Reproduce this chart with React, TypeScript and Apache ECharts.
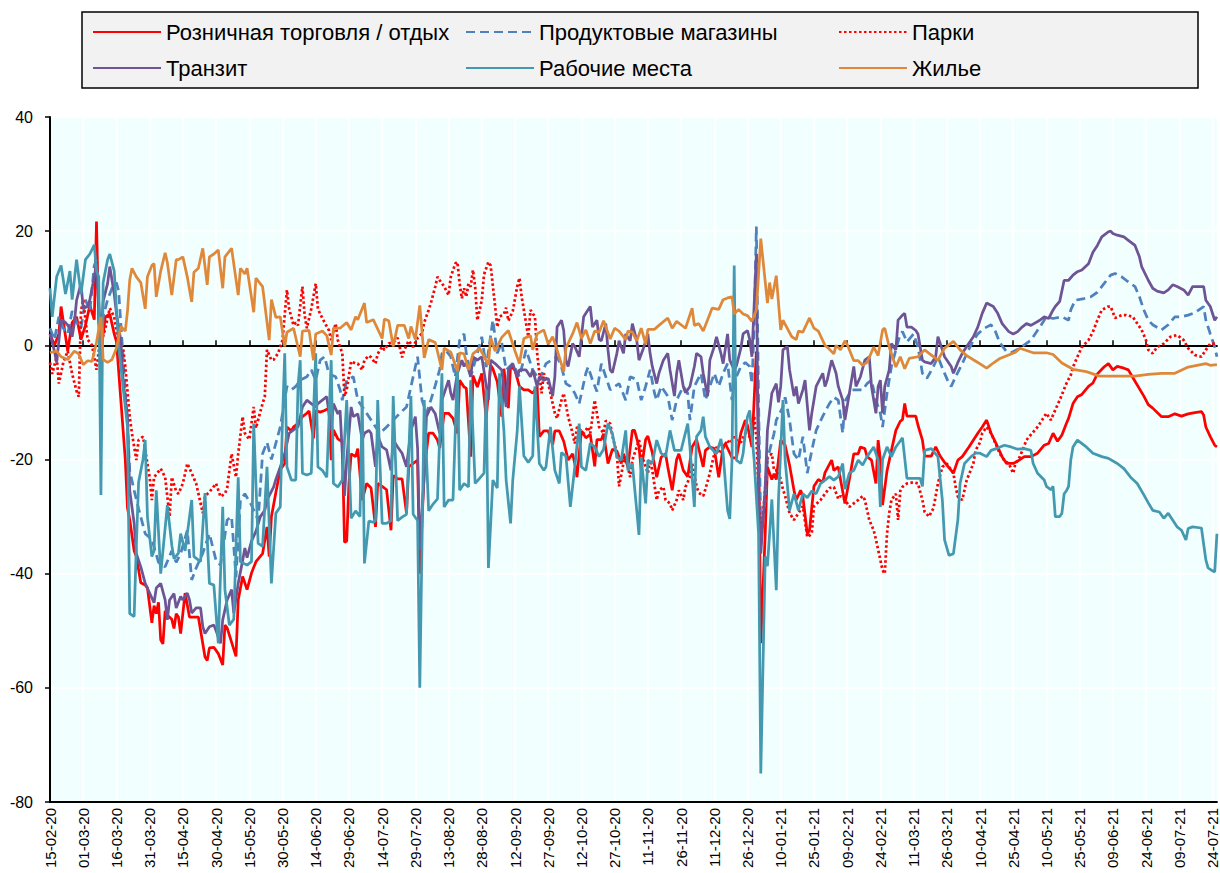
import React, { useEffect, useRef } from "react";
import * as echarts from "echarts";

// Category axis: daily dates from 15-02-2020 to 26-07-2021
const START = Date.UTC(2020, 1, 15);
const DAY_COUNT = 528;
const pad = (n: number) => (n < 10 ? "0" + n : "" + n);
const dates: string[] = [];
for (let i = 0; i < DAY_COUNT; i++) {
  const t = new Date(START + i * 86400000);
  dates.push(pad(t.getUTCDate()) + "-" + pad(t.getUTCMonth() + 1) + "-" + pad(t.getUTCFullYear() % 100));
}

const yTicks = { min: -80, max: 40, step: 20 };

const seriesNames = [
  "Розничная торговля / отдых",
  "Продуктовые магазины",
  "Парки",
  "Транзит",
  "Рабочие места",
  "Жилье",
];

// [day index, value]
const retail: number[][] = [[0,2],[2,0],[4,2],[5,6.8],[8,-1],[10,4],[12,5],[14,1],[16,3.5],[18,7],[20,4.5],[21,21.7],[22,4],[23,-1],[25,5],[27,5.5],[29,2],[30,0.7],[32,-9.6],[34,-20],[35,-28.5],[36,-30.5],[38,-36],[39,-37],[41,-41.6],[43,-42],[44,-42.5],[46,-48.6],[47,-45.6],[48,-47],[49,-45],[50,-51.6],[51,-52.3],[52,-46.5],[53,-47.3],[55,-48],[56,-49.6],[57,-47],[58,-47.6],[59,-50.5],[61,-43.4],[63,-47.6],[65,-47.6],[67,-47.6],[70,-54.6],[71,-55.2],[72,-53],[74,-52.9],[76,-54],[78,-56],[79,-49],[80,-49.5],[82,-52],[84,-54.5],[85,-44.6],[87,-40.5],[89,-42.8],[91,-39.9],[93,-37.9],[96,-36.5],[98,-31.8],[99,-37],[100,-30],[102,-25.8],[104,-21.8],[106,-20.7],[107,-14.3],[109,-15],[110,-14.3],[112,-13.7],[114,-12.5],[116,-11.9],[117,-11.5],[119,-16.3],[120,-11.4],[122,-11.7],[124,-11.4],[126,-11],[127,-20.1],[128,-14.8],[130,-16.4],[132,-16.9],[133,-34.5],[134,-34.3],[135,-24.2],[136,-19],[138,-19.5],[139,-18.1],[141,-27.1],[143,-24.2],[145,-25],[147,-31.8],[148,-24.2],[150,-24.7],[152,-25.3],[154,-32.4],[155,-22.8],[157,-23.4],[159,-23.4],[161,-29.4],[162,-21.3],[164,-20.7],[166,-20.1],[167,-40],[169,-21.9],[171,-15.4],[173,-15.4],[175,-16.6],[176,-18],[178,-11.9],[180,-11.9],[182,-12.8],[184,-15.4],[185,-6.1],[187,-7.3],[188,-7.5],[190,-19.5],[191,-5.3],[193,-7.3],[195,-4.9],[197,-12.8],[199,-3.5],[200,-4.1],[202,-6.4],[204,-12.5],[205,-4.1],[207,-11],[208,-3.5],[210,-4.4],[212,-7.2],[214,-7.8],[216,-7.8],[218,-8.4],[220,-7.2],[221,-16],[223,-15],[225,-15],[227,-17.4],[228,-15],[230,-15],[232,-16.8],[234,-20.1],[236,-19],[237,-20.7],[238,-23.1],[240,-15],[242,-16.2],[244,-15.6],[246,-21.2],[247,-16.5],[249,-16.5],[250,-15.5],[252,-20.7],[254,-18.2],[256,-18.5],[258,-20.7],[259,-19],[261,-21.3],[263,-14.9],[264,-14.9],[266,-17.8],[267,-21.8],[269,-16.5],[270,-15.9],[272,-18.8],[274,-23.1],[276,-19.6],[278,-19],[279,-21.3],[281,-25.4],[283,-20],[284,-19],[286,-21.9],[288,-23],[290,-17.8],[292,-16.5],[295,-21.3],[296,-18.4],[298,-17.8],[300,-18.1],[302,-23.1],[304,-17.8],[305,-17.2],[308,-19.7],[310,-19.7],[312,-15.4],[314,-13.1],[315,-14],[316,-16],[317,-17.8],[318,-9.6],[319,-1.1],[320,-15],[321,-52.2],[323,-33],[324,-21.3],[326,-23.5],[327,-22.5],[328,-23.5],[330,-16.6],[332,-17.5],[334,-21],[336,-25.4],[337,-27.1],[339,-25.4],[340,-26.5],[342,-33],[343,-32.4],[345,-24.7],[347,-23.5],[349,-24],[350,-22.3],[353,-20.1],[354,-21.9],[356,-21.3],[357,-23.5],[359,-27.7],[361,-23.5],[363,-19],[365,-19],[366,-17.8],[368,-18.1],[369,-19.5],[371,-20.1],[373,-24.2],[374,-16.6],[375,-20],[376,-28],[378,-22],[380,-18.4],[382,-14.9],[384,-13.3],[385,-13],[386,-10.2],[387,-12.4],[389,-12.4],[391,-12.4],[392,-14],[394,-16.6],[395,-19.4],[398,-19.4],[400,-17.8],[402,-19.4],[404,-20.5],[408,-22.4],[410,-20.1],[412,-19.5],[415,-17.8],[419,-15.4],[421,-14.3],[423,-13.1],[425,-15.4],[427,-17],[430,-19.5],[432,-20.7],[435,-20.7],[437,-20.3],[440,-19.5],[443,-19.5],[446,-18.9],[449,-17.5],[451,-17.2],[453,-15.4],[455,-16.8],[457,-15.7],[459,-13.7],[460,-12.8],[462,-10.2],[464,-9],[466,-8.6],[469,-7.2],[471,-6.6],[473,-5],[476,-3.8],[478,-3.2],[480,-4.3],[482,-3.7],[485,-4],[487,-4.3],[490,-6.3],[494,-8.9],[496,-10.4],[498,-11],[502,-12.5],[505,-12.5],[508,-12],[511,-12.4],[514,-12],[517,-11.8],[520,-11.6],[521,-12.2],[522,-14.3],[524,-16],[526,-17.5],[527,-17.8]];

const grocery: number[][] = [[0,3],[2,1],[4,5],[6,3],[8,2],[10,6],[12,4],[14,3],[16,8],[18,6],[20,14],[21,15],[23,-2],[24,5],[26,8],[28,10],[30,11],[31,9.5],[33,-2],[35,-14],[36,-22],[38,-25.4],[40,-28.6],[43,-33],[46,-34],[49,-38],[52,-38.8],[55,-36],[57,-38],[59,-36.5],[62,-32.4],[64,-41.1],[66,-39],[69,-36.4],[72,-33],[75,-37.7],[77,-38.5],[80,-30.6],[82,-30],[84,-40.6],[86,-27.1],[88,-26],[91,-28],[94,-30.6],[96,-19],[98,-17],[100,-20],[104,-14.3],[107,-7.2],[109,-7.8],[111,-7.2],[113,-6.1],[116,-5.5],[118,-4.3],[120,-6.1],[122,-2.6],[124,-2],[126,-5],[129,-5.5],[131,-7.8],[132,-9.6],[134,-6.1],[137,-5.5],[139,-9.6],[143,-11.9],[146,-13.7],[149,-15.4],[152,-14.3],[155,-13.1],[158,-11.9],[161,-10.8],[164,-5.5],[166,-2],[168,-9.6],[170,-11.9],[172,-9.6],[174,-7],[176,-4.2],[177,-1.4],[179,-1],[181,-2],[183,-5.5],[185,0.9],[187,2],[188,-1.4],[190,-5.5],[193,-1.4],[195,1.5],[197,-3.8],[200,4.4],[202,-1.4],[204,0.5],[206,-4.3],[209,-3.2],[212,-5.5],[215,-0.8],[218,-4.3],[221,-6.1],[224,-3.2],[229,-2],[231,-3.8],[233,-6.7],[235,-7.2],[237,-8.4],[239,-10.2],[242,-4.9],[243,-3.8],[245,-6.1],[247,-8.1],[249,-3.2],[251,-5.5],[253,-7.8],[255,-7.2],[257,-6.7],[260,-9.6],[262,-5.5],[265,-6],[267,-9.6],[269,-7.2],[271,-4.3],[273,-8.4],[274,-9.6],[276,-7.2],[279,-8.9],[281,-13.1],[283,-9.6],[286,-7.2],[288,-8.4],[289,-13.1],[291,-7.2],[294,-4.9],[296,-9.6],[298,-7.2],[300,-4.9],[302,-7.2],[304,-4.9],[306,-3.2],[308,-9.6],[310,-5.5],[312,-3.7],[314,-3],[316,-3.7],[317,-6.7],[318,3.2],[319,20.8],[320,-10],[321,-32],[323,-27.1],[324,-20],[327,-15.4],[328,-13.1],[331,-10.8],[332,-9.1],[334,-13.1],[336,-19],[338,-20.1],[340,-16],[342,-22.4],[344,-18.5],[346,-14.9],[349,-12.4],[352,-10.2],[354,-9.1],[356,-9.6],[358,-15.4],[359,-9.8],[362,-7.8],[365,-7.8],[367,-7.8],[369,-6.7],[371,-6.1],[373,-9.6],[375,-11.9],[376,-14.3],[378,-8.4],[380,-3.7],[382,-0.8],[384,2],[385,2.4],[387,0.6],[390,2],[392,-0.3],[394,-4.9],[396,-5.8],[399,-3.7],[401,-2],[403,-4],[406,-6.7],[407,-7.2],[409,-5.5],[412,-3.2],[414,-1.5],[417,0.9],[419,2],[422,3],[425,3.6],[427,2.4],[429,0.4],[432,-1.1],[434,-1.3],[438,-0.5],[443,0.9],[447,3.2],[450,5],[453,4.7],[457,5],[460,4.4],[461,6.2],[463,7.9],[467,8.2],[470,8.5],[473,9.3],[476,10.8],[479,12.3],[481,12.6],[484,12],[486,11.4],[490,10.3],[492,8.5],[494,6.2],[496,4.4],[498,3.6],[502,2.7],[505,3.6],[508,5],[511,5],[514,5.3],[517,5.7],[521,6.8],[522,4.4],[524,2],[526,-0.3],[527,-2]];

const parks: number[][] = [[0,-3],[1,-5],[3,-2],[4,-6.7],[6,-3],[8,-1],[10,-5],[12,-8],[13,-9],[14,6],[15,8],[17,1],[19,0],[21,-4.3],[22,-1],[25,3],[27,6.5],[29,5],[31,0],[33,-0.5],[34,-3.7],[36,-12.5],[37,-15.4],[39,-20.1],[40,-16.6],[42,-16],[45,-23.1],[46,-27.1],[47,-23.1],[50,-21.6],[52,-23.1],[54,-30],[55,-23.1],[57,-25.6],[58,-26],[60,-24.2],[62,-20.7],[64,-22.4],[66,-24.2],[69,-29.4],[70,-26.4],[72,-25.7],[75,-24.2],[77,-26.5],[79,-26],[80,-25],[82,-19],[84,-23.1],[85,-19],[87,-12.5],[88,-15.4],[90,-16.5],[92,-10.8],[93,-14.5],[96,-10.2],[97,-9],[98,-0.8],[100,-2.6],[101,-2.5],[103,-1.4],[105,0.9],[107,9.7],[108,6.4],[110,3.5],[111,4],[112,3.5],[114,10.3],[115,5.3],[116,3],[118,6.4],[120,10.8],[121,6.4],[122,5.5],[124,4],[126,2.6],[127,0.9],[129,3.8],[130,0.9],[132,-1.4],[133,-8.9],[134,-7.8],[136,-2.8],[138,-3.2],[139,-3.2],[141,-4.3],[142,-2.6],[144,-1.8],[145,-2.1],[147,-3.2],[148,-1.5],[150,-0.2],[151,-0.8],[153,0.3],[156,0.8],[157,1.3],[159,-2.1],[160,-0.8],[162,0.8],[164,-0.3],[166,1.3],[168,2.1],[169,4],[171,6.2],[172,7.4],[174,10.3],[175,12],[176,11.4],[178,10.3],[180,8.8],[181,12],[183,14.3],[184,14.6],[185,10.8],[186,8.2],[187,10],[188,8.5],[189,10.8],[190,10.3],[191,13.2],[192,10.3],[193,4.4],[195,7.9],[196,12.4],[198,14.6],[199,14],[201,6.9],[202,3.2],[203,5],[205,5.5],[206,6.6],[207,4.3],[209,6],[211,10.3],[212,11.8],[213,8.5],[214,6.2],[216,1.5],[217,6.2],[219,5],[220,-1.4],[222,-8.4],[223,-4.9],[225,-6.7],[226,-8.4],[228,-11.9],[229,-12.8],[231,-9.6],[232,-8.4],[234,-12.5],[236,-15.4],[237,-17.2],[238,-14.3],[240,-15],[241,-15.4],[243,-14.3],[244,-15.4],[246,-9.6],[248,-14.3],[250,-15.4],[251,-13.2],[253,-13.7],[254,-15.9],[256,-18.9],[257,-24.7],[259,-20.6],[260,-19.5],[262,-23.1],[263,-20.1],[265,-17.8],[266,-16.6],[268,-20.1],[270,-22.4],[271,-20.1],[272,-21.9],[274,-27.1],[275,-25.4],[277,-24.8],[278,-27.1],[280,-27.7],[281,-28.9],[283,-27.1],[284,-25.4],[286,-27.1],[287,-24.8],[289,-23.1],[290,-20.7],[292,-24.7],[293,-25.8],[295,-26.4],[296,-25.2],[298,-22.4],[300,-19],[301,-17.8],[303,-19],[304,-18],[306,-16.6],[307,-17.2],[309,-16],[310,-16.6],[312,-17],[314,-15.4],[316,-16],[317,-17],[318,-12.4],[319,-16],[321,-35],[323,-25],[324,-19.5],[326,-19],[327,-21.9],[329,-21.9],[331,-25.2],[332,-26.4],[334,-29.4],[336,-30.6],[338,-29.4],[340,-28.2],[342,-33.6],[344,-33],[345,-28.2],[348,-27.1],[350,-26],[352,-25],[354,-24.8],[356,-26.9],[357,-26.4],[359,-27],[361,-28.3],[363,-27.7],[365,-27.1],[367,-26.4],[368,-27.1],[370,-30.6],[372,-32.4],[373,-34],[376,-39.4],[377,-40],[378,-33],[379,-29.4],[380,-27.1],[382,-26],[383,-30.6],[384,-25.5],[385,-24.8],[387,-24.2],[390,-24],[392,-24.2],[394,-27.1],[395,-29.2],[397,-30],[399,-28.5],[401,-24.2],[403,-21.3],[405,-20.7],[408,-22.4],[409,-24.8],[410,-26.5],[412,-27.1],[414,-23.6],[417,-20.7],[418,-18.4],[420,-17],[421,-15.4],[423,-14.3],[425,-15.4],[427,-17.2],[429,-19],[431,-20.2],[433,-20.7],[435,-22.4],[436,-20.7],[438,-19.5],[441,-16.6],[442,-16.1],[446,-14.3],[450,-11.9],[452,-13.1],[454,-11.3],[456,-9.6],[459,-6.7],[461,-5.2],[462,-3.8],[464,-2],[466,-0.3],[469,0.9],[471,2.4],[473,4.4],[475,6.2],[478,6.8],[479,6.8],[481,4.8],[484,5.3],[486,5.3],[489,5],[490,4.4],[493,2.7],[495,0.9],[496,-0.8],[498,-1.4],[500,-0.3],[503,0.3],[506,1.5],[509,1.8],[512,0.9],[514,-0.5],[517,-1.7],[520,-2],[522,-0.8],[524,0.3],[527,0.3]];

const transit: number[][] = [[0,2],[2,-1],[3,-3],[5,4.5],[7,4],[9,3],[10,1.5],[11,3.9],[12,7.9],[14,10.8],[15,6.5],[17,6.8],[18,8],[20,12],[21,14.3],[23,0.8],[24,7.7],[26,10.8],[27,13.8],[29,9],[30,5.6],[32,0.8],[33,-6.1],[35,-12.5],[36,-25.4],[38,-31.2],[39,-36.5],[41,-38.8],[43,-41.7],[45,-43.4],[47,-45.1],[48,-42.5],[50,-41.7],[52,-44.6],[53,-48.1],[54,-44.6],[56,-43.5],[57,-46],[59,-44],[60,-44.6],[62,-43.4],[63,-44.6],[64,-46.9],[66,-46],[68,-46],[69,-49.3],[70,-50.5],[72,-49.3],[74,-49],[75,-50],[77,-52.2],[78,-48.1],[80,-44.6],[82,-42.8],[83,-46.9],[85,-41.7],[87,-37.7],[88,-35.5],[89,-37.2],[91,-34.3],[93,-32.6],[95,-30],[97,-28.9],[98,-27.1],[101,-24.8],[102,-23.5],[104,-21.3],[106,-19],[108,-15.4],[110,-14.8],[112,-14.3],[114,-10.8],[116,-9.6],[118,-10.2],[120,-10.8],[121,-10.2],[123,-9.6],[125,-9],[127,-14.9],[128,-10.2],[130,-12],[131,-11.4],[133,-26.4],[134,-20.1],[136,-10.8],[137,-12.5],[139,-12],[141,-16.6],[142,-15.4],[144,-14.9],[145,-15.4],[147,-21.3],[148,-15.9],[150,-17.8],[152,-18.3],[154,-21.9],[155,-16.6],[157,-17.8],[159,-18.9],[161,-21.3],[163,-14.9],[165,-12.5],[166,-18],[167,-35.8],[169,-22.9],[170,-12.5],[172,-10.8],[174,-12],[176,-15.4],[177,-9.6],[180,-6.1],[181,-8.4],[182,-9.6],[184,-4.9],[186,-2.6],[187,-3.7],[188,-3],[190,-5.5],[191,-2],[193,-2.6],[195,-2],[198,-9.6],[199,-2.6],[201,-3.2],[204,-4.3],[206,-10.8],[207,-4.3],[209,-3.2],[211,-5.5],[212,-4.3],[215,-4.3],[217,-5.5],[218,-4.3],[220,-7.2],[221,-5.5],[223,-6.1],[225,-5.8],[227,-8.9],[228,-5.5],[229,3.2],[231,4.4],[232,2.6],[233,-2.6],[234,-3.7],[236,0.3],[237,-0.2],[239,-2],[241,5],[242,5.6],[244,6.8],[245,3.2],[247,4.4],[248,1],[249,0.8],[251,3.8],[252,-0.8],[253,-4.3],[254,-4.8],[256,-1.4],[257,0.8],[259,-1.4],[260,2],[262,0.8],[263,3.8],[265,0.8],[266,-2.6],[268,-0.5],[270,2],[271,-1.4],[272,-3.7],[274,-6.7],[275,-4.9],[277,-2.6],[279,-1.4],[280,-4.3],[282,-8.9],[283,-4.9],[284,-2.6],[286,-7.2],[287,-8.3],[289,-7.2],[291,-3.7],[292,-1.4],[294,-2],[295,-4.9],[297,-8.9],[298,-2.6],[300,-0.2],[301,1.5],[303,-1.4],[304,-3.2],[306,2],[307,-2.6],[309,-4.3],[310,-3.6],[312,-0.5],[313,2],[315,2.6],[316,1],[317,-2],[319,16],[320,-27.1],[321,-36.5],[323,-24.8],[324,-14.9],[326,-8.4],[328,-6.7],[329,-10],[330,-7.2],[331,-0.8],[333,-0.2],[334,-4.3],[336,-8.9],[337,-7.2],[338,-10.2],[340,-7.8],[341,-6.1],[343,-14.9],[344,-12],[346,-7.2],[349,-4.9],[350,-7.2],[351,-6.1],[353,-2.6],[355,-4.9],[356,-7.2],[358,-9.6],[359,-13.1],[361,-8.4],[363,-3.7],[364,-7.2],[366,-5.5],[368,-2.6],[370,-2],[371,-7.2],[373,-11.9],[374,-7.2],[375,-6.1],[376,-11.9],[377,-7.2],[379,-4.3],[380,0.3],[382,-0.8],[383,4.4],[385,5.3],[386,5.6],[387,3.2],[389,3.2],[391,2.6],[392,2],[394,-2.6],[395,-2.9],[398,-3.2],[400,-2],[401,1.5],[403,-0.8],[404,-2],[407,-3.7],[408,-4.9],[410,-3],[412,-1.4],[414,-0.2],[417,1.5],[419,3.2],[421,5.6],[423,7.4],[426,6.8],[428,5.6],[430,3.8],[433,2.4],[435,2],[437,2.4],[439,3.2],[441,3.8],[443,3.5],[447,4.4],[449,5],[451,4.7],[453,6.2],[454,6.8],[456,7.7],[458,11.4],[460,11.4],[462,12.3],[464,12.9],[466,13.2],[469,14.3],[471,16.3],[473,17.5],[475,19],[478,19.9],[479,20],[480,19.6],[482,19.3],[485,19],[487,18.4],[490,17.5],[492,15.5],[493,13.8],[496,11.4],[498,10],[500,9.5],[503,9.2],[505,9.7],[507,10.6],[509,10.3],[512,9.7],[514,8.8],[516,10.3],[518,10.3],[521,10.3],[522,7.9],[524,6.8],[526,4.4],[527,5]];

const workplaces: number[][] = [[0,10],[1,5],[3,12],[5,14],[7,9],[9,13],[10,8],[12,15],[14,9],[16,15],[18,16],[20,17.6],[21,13],[22,12],[23,-26.2],[24,11],[26,15],[27,16],[29,13],[31,0],[33,-7.3],[35,-14.3],[36,-47],[38,-47.5],[39,-35],[40,-24],[42,-20],[43,-16.6],[44,-30],[46,-37],[47,-36],[48,-25.4],[50,-40],[51,-36],[53,-28],[55,-35],[56,-37.4],[58,-36.4],[59,-33],[61,-36],[64,-27.1],[65,-37],[68,-37.9],[70,-25.9],[72,-41.7],[74,-42],[76,-52.2],[78,-28.3],[79,-42.8],[81,-49],[83,-48],[85,-23.1],[86,-37.9],[89,-38.5],[91,-37.9],[92,-13.7],[94,-34.7],[96,-35.2],[98,-21.3],[100,-41.7],[102,-29.4],[104,-28.3],[105,-13.1],[106,-1.4],[107,-21.3],[109,-23.6],[111,-23.6],[112,-7.2],[113,-2.6],[114,-22.4],[116,-22.7],[118,-22.4],[120,-1.4],[121,-21.3],[123,-21.9],[125,-23.1],[127,-2.6],[128,-24.2],[130,-24.8],[132,-23.6],[134,-9.6],[136,-30.3],[138,-29],[140,-30],[141,-8.9],[142,-38.2],[144,-30.8],[146,-31],[147,-30.7],[148,-9.6],[150,-31.2],[152,-31.2],[154,-30.7],[155,-8.9],[157,-30.7],[159,-30.1],[161,-29.6],[163,-8.9],[164,-29.6],[166,-30.7],[167,-60],[169,-9.6],[171,-29],[173,-27.8],[175,-26.9],[177,-4.9],[178,-28.3],[180,-27.1],[182,-27.1],[184,-3.7],[185,-25.4],[187,-24.2],[189,-24.8],[190,-6.1],[192,-24.2],[194,-23.3],[196,-22.4],[197,-7.8],[198,-39],[200,-23.6],[202,-25],[203,-4.9],[205,-15],[206,-23.6],[208,-31.2],[209,-23.6],[211,-15],[212,-7.2],[214,-19.4],[216,-20.5],[218,-19.4],[219,-7.2],[221,-20.7],[223,-21.9],[224,-21.3],[226,-14.3],[228,-21.9],[230,-24.2],[231,-18.8],[233,-19.4],[235,-28.3],[237,-21.3],[239,-13.7],[240,-21.3],[242,-21.9],[244,-17.1],[246,-17.8],[248,-19.5],[250,-18.2],[252,-13.7],[254,-15.5],[256,-19.6],[258,-20.1],[260,-14.9],[261,-21.9],[263,-20.7],[266,-33.2],[267,-19.6],[269,-27.7],[270,-20.1],[272,-20.7],[274,-16.6],[276,-18.9],[278,-19.5],[280,-14.9],[282,-18.4],[285,-18.4],[288,-13.7],[289,-17.8],[291,-28.3],[292,-16],[294,-14.9],[295,-12.5],[296,-16],[298,-17.8],[301,-19],[303,-16.4],[304,-19],[306,-28.9],[307,-30.4],[308,-20.1],[309,14],[310,-20.1],[312,-20.7],[313,-19],[314,-15.4],[315,-12.5],[316,-11.4],[318,-20.1],[320,-33],[321,-75],[323,-37],[324,-38.7],[326,-27],[328,-42.9],[329,-27],[331,-9.6],[332,-20.1],[334,-28.9],[336,-26],[338,-28.9],[340,-26],[342,-26.7],[344,-25.5],[346,-26],[348,-24.2],[350,-23.6],[352,-23],[354,-23.6],[356,-23],[358,-20.7],[359,-25.2],[361,-22.4],[363,-21.9],[365,-20.1],[367,-21],[369,-19.5],[372,-17.8],[374,-20.1],[375,-28.3],[376,-20],[378,-17.8],[380,-19.5],[382,-17.8],[385,-16.2],[387,-23.3],[390,-23.3],[393,-23.3],[394,-24.7],[395,-18.4],[398,-18.1],[401,-19.5],[403,-27.1],[404,-34.1],[406,-36.8],[408,-36.5],[410,-30.6],[411,-24.2],[413,-20.7],[416,-19.5],[418,-18.9],[420,-18.9],[423,-19.5],[425,-18.4],[428,-18],[431,-17.5],[434,-17.8],[437,-18.2],[440,-18.1],[443,-18.4],[444,-20.7],[446,-22.4],[449,-23.6],[450,-24.7],[452,-25.3],[453,-24.7],[454,-30],[456,-30],[457,-29.4],[458,-26],[459,-25.5],[460,-24.7],[461,-20.1],[462,-17.8],[464,-16.6],[468,-17.8],[471,-18.9],[475,-19.5],[478,-19.8],[482,-20.7],[485,-21.6],[488,-23.1],[491,-24.2],[494,-26.2],[496,-27.6],[498,-28.9],[501,-29.2],[503,-30.3],[505,-29.4],[507,-30.6],[509,-31.8],[511,-32.4],[513,-34.1],[514,-32.1],[516,-31.8],[520,-32],[522,-37.6],[523,-39],[525,-39.5],[526,-39.7],[527,-33]];

const residential: number[][] = [[0,-1.3],[3,-1],[5,-2],[8,-2.5],[11,-1],[13,-1.5],[15,-3.4],[17,-2.7],[19,-2.8],[21,0.5],[23,5],[24,-2.5],[26,-3],[28,-2.5],[30,-0.5],[32,3.3],[34,2.5],[35,6],[36,11.4],[37,13.5],[39,12],[41,11],[43,6.4],[44,12],[46,14],[47,14.3],[48,8.5],[50,13],[52,16.2],[53,14.5],[55,8.8],[57,15],[58,15],[60,15.5],[62,12],[64,7.6],[65,12.8],[67,13.5],[69,17],[71,10.6],[72,15.5],[74,16],[76,16.7],[78,10],[79,15.5],[82,17],[85,8.8],[86,13.5],[88,12.5],[89,13.5],[92,5.8],[93,11.8],[96,10.3],[99,0.9],[100,8],[102,4.9],[104,5],[106,-0.2],[107,2.3],[110,3],[113,-2],[114,2.5],[117,2.6],[119,-2.6],[120,2],[123,2.5],[125,1.7],[127,-1.7],[128,3],[131,3],[134,4],[136,2.7],[138,5],[139,4.5],[142,7.4],[143,4],[146,4.5],[150,1.2],[151,4.6],[153,4.3],[155,-0.2],[157,3.5],[160,3.5],[162,1.2],[163,3.3],[165,1],[167,7],[169,-2.2],[171,1],[174,0.5],[177,-4.3],[178,-0.5],[181,-1.2],[184,-4.5],[185,-1.3],[187,-1.5],[189,-4.3],[191,-1.5],[194,-0.5],[198,-3.4],[199,1.4],[201,-1],[204,1.4],[207,2.6],[210,-1],[212,-3.2],[214,1.2],[217,1.7],[218,-0.8],[220,2],[223,2.7],[225,0.2],[227,1.5],[229,-0.8],[232,-4.6],[233,-0.5],[236,2],[238,4],[240,1.2],[242,2.7],[244,0.3],[246,2.5],[248,2.3],[250,4.3],[253,1.1],[255,3],[257,2.5],[260,1],[261,2.5],[263,2.3],[265,0.8],[267,3],[269,0.2],[270,2.8],[273,2.8],[275,3.5],[279,4.8],[281,3],[283,4.2],[286,3.3],[287,3],[290,6.5],[291,3.5],[293,3.8],[295,2.5],[297,4.5],[299,6.5],[302,6.3],[304,8],[306,8.3],[308,8.5],[309,5.5],[311,6.3],[313,5.5],[315,5.2],[317,4.2],[319,6.2],[321,18.7],[324,7.4],[325,11],[326,8.1],[328,12.2],[330,2.7],[331,4.4],[335,1.5],[337,1],[338,2.5],[340,2.3],[343,4.8],[345,3],[347,2.5],[350,0],[351,-0.3],[354,-1.5],[355,0],[357,-0.8],[359,0.8],[360,0.2],[363,-2.7],[365,-2.7],[367,-3.5],[369,-3],[371,-1.2],[372,-0.3],[374,-1.8],[376,2.7],[377,3],[379,-0.3],[382,-3.8],[384,-2],[386,-4.1],[388,-2.3],[392,-2],[395,-0.8],[397,-1.4],[401,-2.6],[404,-0.5],[408,0.7],[411,-0.8],[414,-1.8],[419,-3],[423,-4],[426,-3.1],[429,-2.3],[436,-1.2],[438,-0.5],[444,-1.3],[450,-1.3],[453,-1.6],[457,-3.1],[462,-4.2],[468,-4.6],[474,-5.4],[483,-5.4],[490,-5.4],[496,-5.1],[502,-4.9],[508,-4.9],[514,-3.8],[522,-3.2],[524,-3.5],[527,-3.4]];

const colors = ["#FF0000", "#4F81BD", "#FF0000", "#6E5494", "#4499B0", "#E0883A"];
const FONT = "'Liberation Sans', Arial, sans-serif";

export default function App() {
  const ref = useRef<HTMLDivElement>(null);
  useEffect(() => {
    if (!ref.current) return;
    const chart = echarts.init(ref.current, undefined, { renderer: "svg" });
    const allData = [retail, grocery, parks, transit, workplaces, residential];
    const lineTypes: any[] = ["solid", [9, 5], [2.5, 2.5], "solid", "solid", "solid"];
    const series = allData.map((d, i) => ({
      name: seriesNames[i],
      type: "line",
      data: d,
      xAxisIndex: 0,
      yAxisIndex: 0,
      symbol: "none",
      showSymbol: false,
      color: colors[i],
      lineStyle: { color: colors[i], width: 2.75, type: lineTypes[i] },
      z: 2 + i,
    }));
    const legendBase = {
      orient: "vertical",
      top: 20,
      padding: 0,
      itemWidth: 68,
      itemHeight: 14,
      itemGap: 12,
      itemStyle: { opacity: 0 },
      textStyle: { fontSize: 22, fontFamily: FONT, color: "#000", lineHeight: 24 },
      selectedMode: false,
    };
    chart.setOption({
      animation: false,
      textStyle: { fontFamily: FONT },
      graphic: [
        {
          type: "rect",
          z: 0,
          shape: { x: 82, y: 12, width: 1116, height: 76 },
          style: { fill: "#F2F2F2", stroke: "#000", lineWidth: 1.5 },
        },
      ],
      legend: [
        { ...legendBase, left: 92, data: [seriesNames[0], seriesNames[3]] },
        { ...legendBase, left: 465, data: [seriesNames[1], seriesNames[4]] },
        { ...legendBase, left: 838, data: [seriesNames[2], seriesNames[5]] },
      ],
      grid: {
        left: 50,
        top: 117,
        right: 2,
        bottom: 71,
        show: true,
        backgroundColor: "#F2FFFF",
        borderWidth: 0,
      },
      xAxis: [
        {
          type: "category",
          data: dates,
          boundaryGap: false,
          position: "bottom",
          axisLine: { onZero: false, lineStyle: { color: "#000", width: 2 } },
          axisTick: { show: false },
          axisLabel: {
            interval: 14,
            rotate: 90,
            fontSize: 15,
            color: "#000",
            fontFamily: FONT,
            margin: 6,
          },
          splitLine: { show: true, interval: 14, lineStyle: { color: "#FFFFFF", width: 2 } },
        },
        {
          type: "category",
          data: dates,
          boundaryGap: false,
          position: "bottom",
          axisLine: { onZero: true, lineStyle: { color: "#000", width: 2 } },
          axisTick: { show: true, inside: true, interval: 14, length: 5, lineStyle: { color: "#000", width: 1.5 } },
          axisLabel: { show: false },
          splitLine: { show: false },
        },
      ],
      yAxis: {
        type: "value",
        min: yTicks.min,
        max: yTicks.max,
        interval: yTicks.step,
        axisLine: { show: true, lineStyle: { color: "#000", width: 2 } },
        axisTick: { show: true, length: 5, lineStyle: { color: "#000", width: 1.5 } },
        axisLabel: { fontSize: 16, color: "#000", fontFamily: FONT, margin: 17 },
        splitLine: { show: true, lineStyle: { color: "#FFFFFF", width: 2 } },
      },
      series,
    });
    return () => chart.dispose();
  }, []);
  return (
    <div
      ref={ref}
      style={{ position: "fixed", left: 0, top: 0, width: 1220, height: 873, background: "#fff" }}
    />
  );
}
